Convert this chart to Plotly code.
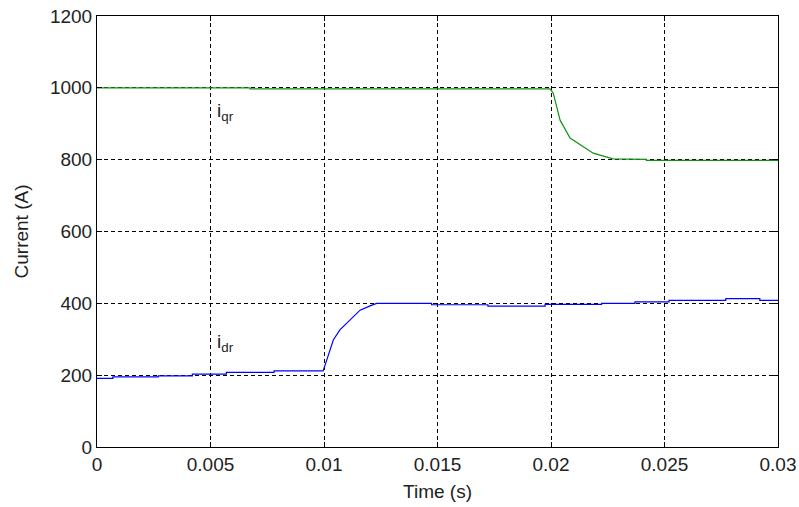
import plotly.graph_objects as go

# i_qr (green) samples
t_iqr = [0, 0.00674, 0.00674, 0.01996, 0.0201, 0.0204, 0.02084, 0.02128, 0.02186, 0.02274, 0.0242, 0.0242, 0.03]
iqr = [1000, 1000, 997, 997, 985, 910, 860, 841, 818, 802, 801, 798, 798]

# i_dr (blue) samples
t_idr = [0, 0.0007, 0.0007, 0.0027, 0.0027, 0.0042, 0.0042, 0.0057, 0.0057, 0.0078, 0.0078,
         0.00996, 0.01012, 0.01041, 0.0107, 0.01115, 0.01159, 0.01203, 0.01232,
         0.01474, 0.01474, 0.01722, 0.01722, 0.01974, 0.01974, 0.02223, 0.02223,
         0.0237, 0.0237, 0.0252, 0.0252, 0.0277, 0.0277, 0.0292, 0.0292, 0.03]
idr = [191, 191, 195, 195, 198, 198, 203, 203, 208, 208, 212,
       212, 242, 298, 326, 354, 381, 393, 400,
       400, 396, 396, 392, 392, 397, 397, 400,
       400, 404, 404, 408, 408, 413, 413, 408, 408]

x_ticks = [0, 0.005, 0.01, 0.015, 0.02, 0.025, 0.03]
x_tick_labels = ["0", "0.005", "0.01", "0.015", "0.02", "0.025", "0.03"]
y_ticks = [0, 200, 400, 600, 800, 1000, 1200]
y_tick_labels = ["0", "200", "400", "600", "800", "1000", "1200"]

font_family = "Liberation Sans, Arial, sans-serif"
txt_color = "#222222"

fig = go.Figure()
fig.add_trace(go.Scatter(x=t_iqr, y=iqr, mode="lines",
                         line=dict(color="#119111", width=1.2), showlegend=False))
fig.add_trace(go.Scatter(x=t_idr, y=idr, mode="lines",
                         line=dict(color="#0000ff", width=1.2), showlegend=False))

fig.add_annotation(x=0.0052, y=893, text="i<sub>qr</sub>", showarrow=False,
                   xanchor="left", yanchor="bottom", font=dict(size=19, color=txt_color, family=font_family))
fig.add_annotation(x=0.0052, y=251, text="i<sub>dr</sub>", showarrow=False,
                   xanchor="left", yanchor="bottom", font=dict(size=19, color=txt_color, family=font_family))

axis_common = dict(showline=True, linecolor="black", linewidth=1, mirror="allticks",
                   ticks="inside", ticklen=5, tickcolor="black", automargin=False,
                   ticklabeloverflow="allow",
                   showgrid=True, gridcolor="black", gridwidth=1, griddash="4px,3px",
                   zeroline=False, tickfont=dict(size=19, color=txt_color, family=font_family))

fig.update_xaxes(range=[0, 0.03], tickvals=x_ticks, ticktext=x_tick_labels,
                 title=dict(text="Time (s)", font=dict(size=19, color=txt_color, family=font_family), standoff=10),
                 **axis_common)
fig.update_yaxes(range=[0, 1200], tickvals=y_ticks, ticktext=y_tick_labels,
                 title=dict(text="Current (A)", font=dict(size=19, color=txt_color, family=font_family), standoff=16),
                 **axis_common)

fig.update_layout(width=799, height=507, margin=dict(l=97, r=21, t=16, b=60),
                  plot_bgcolor="white", paper_bgcolor="white",
                  font=dict(family=font_family))

# remove the page body's default 8px margin so the figure sits at the window corner
fig.write_html("out.html", config={"displayModeBar": False},
               post_script="document.body.style.margin='0px';")
